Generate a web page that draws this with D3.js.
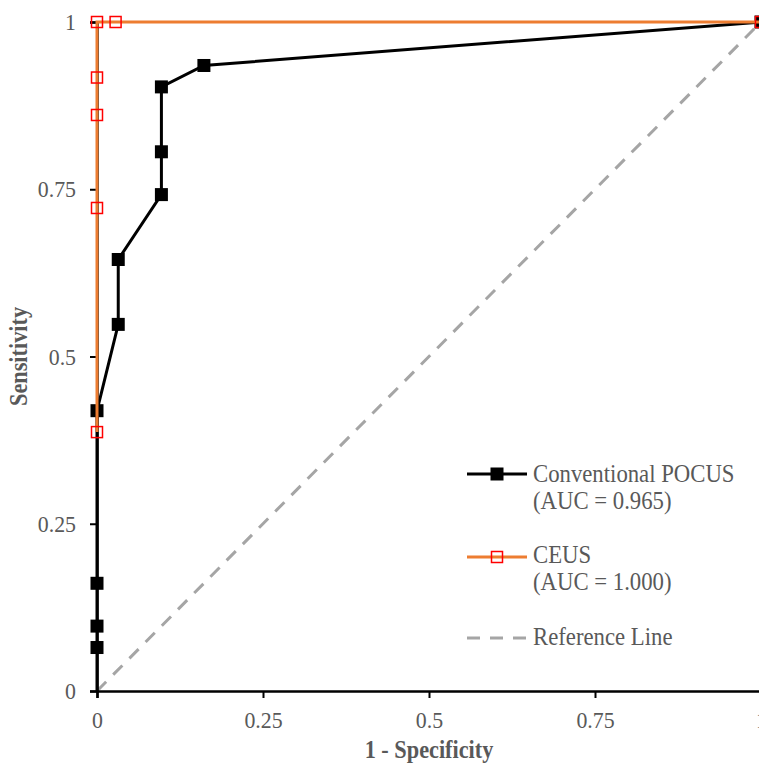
<!DOCTYPE html>
<html>
<head>
<meta charset="utf-8">
<script src="https://cdn.jsdelivr.net/npm/d3@7"></script>
<style>
  body { margin: 0; background: #fff; }
  svg { display: block; font-family: "Liberation Serif", "Times New Roman", serif; }
</style>
</head>
<body>
<div id="chart"></div>
<script>
// ROC points
const pocusFpr = [0, 0, 0, 0, 0, 0.032, 0.032, 0.097, 0.097, 0.097, 0.161, 1];
const pocusTpr = [0, 0.065, 0.097, 0.161, 0.419, 0.548, 0.645, 0.742, 0.806, 0.903, 0.935, 1];
const ceusFpr = [0, 0, 0, 0, 0, 0.028, 1];
const ceusTpr = [0.387, 0.722, 0.861, 0.917, 1, 1, 1];
const tickValues = [0, 0.25, 0.5, 0.75, 1];
const tickLabels = ["0", "0.25", "0.5", "0.75", "1"];
const legendLabels = [
    ["Conventional POCUS", "(AUC = 0.965)"],
    ["CEUS", "(AUC = 1.000)"],
    ["Reference Line"]
];

const width = 759;
const height = 763;
const margin = {top: 22, right: -2, bottom: 72, left: 97};
const textColor = "#595959";
const squeeze = 0.91; // the text in the picture is a bit narrow

const svg = d3.select("#chart")
    .append("svg")
    .attr("width", width)
    .attr("height", height);

const x = d3.scaleLinear()
    .domain([0, 1])
    .range([margin.left, width - margin.right]);

const y = d3.scaleLinear()
    .domain([0, 1])
    .range([height - margin.bottom, margin.top]);

const pocus = pocusFpr.map((d, i) => ({x: d, y: pocusTpr[i]}));
const ceus = ceusFpr.map((d, i) => ({x: d, y: ceusTpr[i]}));

const line = d3.line()
    .x(d => x(d.x))
    .y(d => y(d.y));

// Reference diagonal
svg.append("line")
    .attr("x1", x(0)).attr("y1", y(0))
    .attr("x2", x(1)).attr("y2", y(1))
    .attr("stroke", "#a5a5a5")
    .attr("stroke-width", 3)
    .attr("stroke-dasharray", "13,10");

// Axes
const xAxis = svg.append("g")
    .attr("transform", `translate(0,${y(0)})`)
    .call(d3.axisBottom(x).tickValues(tickValues).tickFormat((d, i) => tickLabels[i]).tickSize(7).tickPadding(13));

const yAxis = svg.append("g")
    .attr("transform", `translate(${x(0)},0)`)
    .call(d3.axisLeft(y).tickValues(tickValues).tickFormat((d, i) => tickLabels[i]).tickSize(7).tickPadding(14));

[xAxis, yAxis].forEach(g => {
    g.select(".domain").attr("stroke", "#000").attr("stroke-width", 2.5);
    g.selectAll(".tick line").attr("stroke", "#000").attr("stroke-width", 2);
    g.selectAll(".tick text")
        .attr("fill", textColor)
        .attr("transform", `scale(${squeeze},1)`)
        .style("font-family", "'Liberation Serif', 'Times New Roman', serif")
        .style("font-size", "24px");
});
yAxis.selectAll(".tick text").attr("x", -21 / squeeze);

// Axis titles
svg.append("text")
    .attr("transform", `translate(${(x(0) + x(1)) / 2},758) scale(${squeeze},1)`)
    .attr("text-anchor", "middle")
    .attr("fill", textColor)
    .style("font-weight", "bold")
    .style("font-size", "24.5px")
    .text("1 - Specificity");

svg.append("text")
    .attr("transform", `translate(27,${(y(0) + y(1)) / 2}) rotate(-90) scale(${squeeze},1)`)
    .attr("text-anchor", "middle")
    .attr("fill", textColor)
    .style("font-weight", "bold")
    .style("font-size", "24.5px")
    .text("Sensitivity");

// POCUS curve
svg.append("path")
    .datum(pocus)
    .attr("fill", "none")
    .attr("stroke", "#000")
    .attr("stroke-width", 3)
    .attr("d", line);

svg.selectAll(".pocus-pt")
    .data(pocus.slice(1))
    .enter().append("rect")
    .attr("class", "pocus-pt")
    .attr("x", d => x(d.x) - 6.5)
    .attr("y", d => y(d.y) - 6.5)
    .attr("width", 13)
    .attr("height", 13)
    .attr("fill", "#000");

// CEUS curve
svg.append("path")
    .datum(ceus)
    .attr("fill", "none")
    .attr("stroke", "#ed7d31")
    .attr("stroke-width", 3)
    .attr("d", line);

svg.selectAll(".ceus-pt")
    .data(ceus)
    .enter().append("rect")
    .attr("class", "ceus-pt")
    .attr("x", d => x(d.x) - 5.5)
    .attr("y", d => y(d.y) - 5.5)
    .attr("width", 11)
    .attr("height", 11)
    .attr("fill", "none")
    .attr("stroke", "#ff0000")
    .attr("stroke-width", 1.5);

// Legend
const legend = svg.append("g").attr("transform", "translate(467,0)");
const rowY = [474, 557, 638];
const textBase = [[482, 509], [563, 590], [645]];

// row 1
legend.append("line").attr("x1", 0).attr("x2", 60).attr("y1", rowY[0]).attr("y2", rowY[0])
    .attr("stroke", "#000").attr("stroke-width", 3);
legend.append("rect").attr("x", 30 - 6.5).attr("y", rowY[0] - 6.5).attr("width", 13).attr("height", 13).attr("fill", "#000");
// row 2
legend.append("line").attr("x1", 0).attr("x2", 60).attr("y1", rowY[1]).attr("y2", rowY[1])
    .attr("stroke", "#ed7d31").attr("stroke-width", 3);
legend.append("rect").attr("x", 30 - 5.5).attr("y", rowY[1] - 5.5).attr("width", 11).attr("height", 11)
    .attr("fill", "none").attr("stroke", "#ff0000").attr("stroke-width", 1.5);
// row 3
legend.append("line").attr("x1", 0).attr("x2", 60).attr("y1", rowY[2]).attr("y2", rowY[2])
    .attr("stroke", "#a5a5a5").attr("stroke-width", 3).attr("stroke-dasharray", "13,10");

legendLabels.forEach((lines, i) => {
    lines.forEach((s, j) => {
        legend.append("text")
            .attr("transform", `translate(66,${textBase[i][j]}) scale(${squeeze},1)`)
            .attr("fill", textColor)
            .style("font-size", "25px")
            .text(s);
    });
});
</script>
</body>
</html>
